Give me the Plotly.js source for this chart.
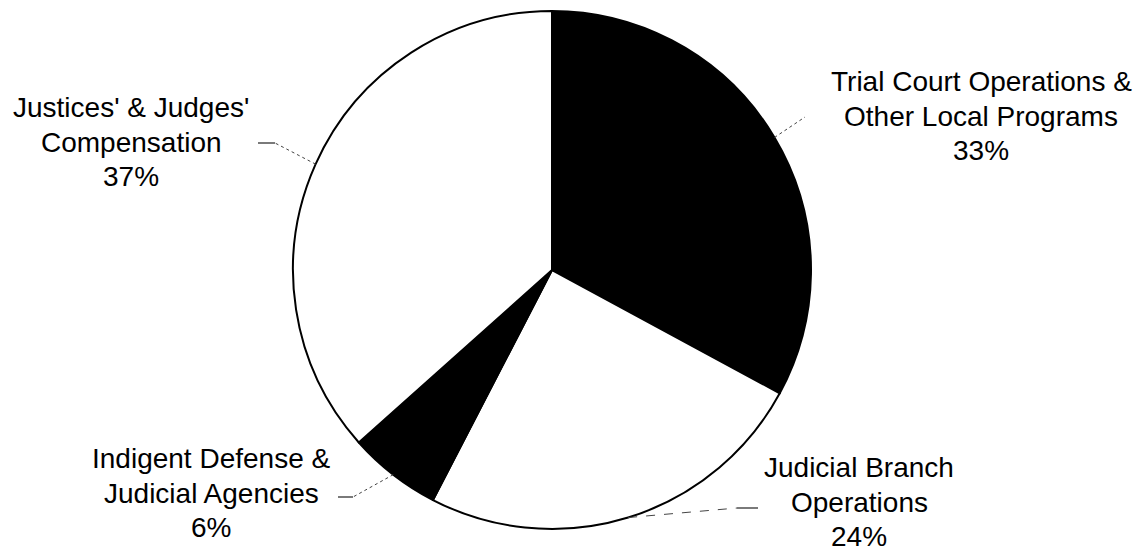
<!DOCTYPE html>
<html>
<head>
<meta charset="utf-8">
<script src="https://cdn.plot.ly/plotly-3.0.1.min.js"></script>
<style>
  html, body { margin: 0; padding: 0; background: #fff; }
  #chart { width: 1145px; height: 552px; }
</style>
</head>
<body>
<div id="chart"></div>
<script>
// ---- data ----
const categories = [
  "Trial Court Operations &<br>Other Local Programs",
  "Judicial Branch<br>Operations",
  "Indigent Defense &<br>Judicial Agencies",
  "Justices' & Judges'<br>Compensation"
];
const values = [32.9, 24.7, 5.8, 36.6];
const percentLabels = ["33%", "24%", "6%", "37%"];
const sliceColors = ["#000000", "#ffffff", "#000000", "#ffffff"];

// ---- layout geometry (pixels) ----
const W = 1145, H = 552;
const CX = 552, CY = 270, R = 259;
const LINE_GAP = 34.5;
const px = x => x / W;
const py = y => 1 - y / H;

// label block centres (middle line) and leader-line elbows/ends (pixels)
const labelPos = [
  { x: 981, y: 116, elbow: null,        end: [805, 117] },
  { x: 859, y: 502, elbow: [737, 508],  end: [758, 508] },
  { x: 211, y: 493, elbow: [353, 497],  end: [338, 497] },
  { x: 131, y: 142, elbow: [275, 143],  end: [258, 143] }
];

const total = values.reduce((a, b) => a + b, 0);
let cum = 0;
const annotations = [];
const shapes = [];
values.forEach((v, i) => {
  const mid = (cum + v / 2) / total * 2 * Math.PI; // clockwise from 12 o'clock
  cum += v;
  const ax = CX + R * Math.sin(mid);
  const ay = CY - R * Math.cos(mid);
  const lp = labelPos[i];
  const lines = categories[i].split("<br>").concat([percentLabels[i]]);
  lines.forEach((t, k) => {
    annotations.push({
      x: px(lp.x), y: py(lp.y + (k - 1) * LINE_GAP), xref: "paper", yref: "paper",
      xanchor: "center", yanchor: "middle", showarrow: false,
      text: t,
      font: { family: "Liberation Sans, Arial, sans-serif", size: 28, color: "#000" },
      align: "center"
    });
  });
  const target = lp.elbow || lp.end;
  shapes.push({
    type: "line", xref: "paper", yref: "paper",
    x0: px(ax), y0: py(ay), x1: px(target[0]), y1: py(target[1]),
    line: { color: "#444", width: 1, dash: i === 1 ? "dash" : "dot" }
  });
  if (lp.elbow) {
    shapes.push({
      type: "line", xref: "paper", yref: "paper",
      x0: px(lp.elbow[0]), y0: py(lp.elbow[1]), x1: px(lp.end[0]), y1: py(lp.end[1]),
      line: { color: "#222", width: 1.2 }
    });
  }
});

const trace = {
  type: "pie",
  labels: categories,
  values: values,
  sort: false,
  direction: "clockwise",
  rotation: 0,
  textinfo: "none",
  hoverinfo: "skip",
  marker: { colors: sliceColors, line: { color: "#000", width: 2 } },
  domain: { x: [(CX - R) / W, (CX + R) / W], y: [1 - (CY + R) / H, 1 - (CY - R) / H] },
  showlegend: false
};

Plotly.newPlot("chart", [trace], {
  width: W, height: H,
  margin: { l: 0, r: 0, t: 0, b: 0 },
  paper_bgcolor: "#fff",
  plot_bgcolor: "#fff",
  showlegend: false,
  annotations: annotations,
  shapes: shapes
}, { displayModeBar: false, staticPlot: true });
</script>
</body>
</html>
